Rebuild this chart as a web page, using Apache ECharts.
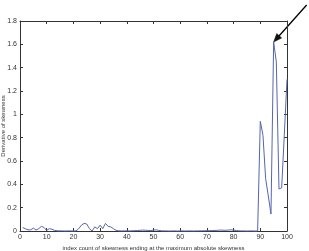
<!DOCTYPE html>
<html><head><meta charset="utf-8">
<script src="https://cdn.jsdelivr.net/npm/echarts@6/dist/echarts.min.js"></script>
<style>html,body{margin:0;padding:0;background:#fff}#c{width:309px;height:251px}</style>
</head><body><div id="c"></div>
<script>
const xIndex = [];
for (let i = 1; i <= 100; i++) xIndex.push(i);
const skewDeriv = [
 0.030,0.020,0.010,0.010,0.025,0.008,0.020,0.040,0.030,0.005,
 0.020,0.015,0.005,0.002,0.001,0.001,0.000,0.001,0.001,0.000,
 0.001,0.020,0.050,0.065,0.060,0.020,0.000,0.035,0.020,0.050,
 0.020,0.065,0.040,0.035,0.020,0.005,0.002,0.001,0.001,0.002,
 0.001,0.002,0.003,0.004,0.006,0.008,0.006,0.005,0.004,0.008,
 0.010,0.005,0.002,0.001,0.001,0.000,0.001,0.001,0.000,0.001,
 0.001,0.000,0.001,0.001,0.000,0.001,0.001,0.002,0.002,0.003,
 0.003,0.004,0.005,0.006,0.008,0.007,0.006,0.008,0.010,0.008,
 0.004,0.002,0.001,0.001,0.000,0.001,0.001,0.000,0.000,0.940,
 0.820,0.450,0.300,0.145,1.620,1.450,0.360,0.370,0.830,1.300
];
const xTicks = [0,10,20,30,40,50,60,70,80,90,100];
const yTicks = [0,0.2,0.4,0.6,0.8,1,1.2,1.4,1.6,1.8];
const peak = [95, 1.62];

const chart = echarts.init(document.getElementById('c'), null, {renderer:'canvas'});
const FONT = 'Liberation Sans';
const axLine = {show:true, onZero:false, lineStyle:{color:'#333', width:1}};
const tick = {show:true, inside:true, length:3, lineStyle:{color:'#333'}};
const lbl = {color:'#333', fontSize:7, fontFamily:FONT};
const fmtY = v => String(Math.round(v*10)/10);
chart.setOption({
  animation:false,
  grid:{left:20, right:22, top:21, bottom:20, containLabel:false, outerBoundsMode:'none'},
  xAxis:[
    {type:'value', min:0, max:100, interval:10, position:'bottom',
     axisLine:axLine, axisTick:tick, splitLine:{show:false},
     axisLabel:Object.assign({margin:3}, lbl),
     name:'index count of skewness ending at the maximum absolute skewness',
     nameLocation:'middle', nameGap:14, nameMoveOverlap:false,
     nameTextStyle:{color:'#333', fontSize:6, fontFamily:FONT}},
    {type:'value', min:0, max:100, interval:10, position:'top',
     axisLine:axLine, axisTick:tick, axisLabel:{show:false}, splitLine:{show:false}}
  ],
  yAxis:[
    {type:'value', min:0, max:1.8, interval:0.2, position:'left',
     axisLine:axLine, axisTick:tick, splitLine:{show:false},
     axisLabel:Object.assign({margin:3, formatter:fmtY}, lbl),
     name:'Derivative of skewness', nameLocation:'middle', nameGap:14, nameMoveOverlap:false,
     nameTextStyle:{color:'#333', fontSize:6, fontFamily:FONT}},
    {type:'value', min:0, max:1.8, interval:0.2, position:'right',
     axisLine:axLine, axisTick:tick, axisLabel:{show:false}, splitLine:{show:false}}
  ],
  series:[{
    type:'line', data:xIndex.map((x,i)=>[x, skewDeriv[i]]),
    showSymbol:false, symbol:'none', clip:false,
    lineStyle:{color:'#5565ad', width:1}
  }]
});
const tip = chart.convertToPixel({xAxisIndex:0, yAxisIndex:0}, peak);
const start = [tip[0]+33, tip[1]-37];
const ang = Math.atan2(tip[1]-start[1], tip[0]-start[0]);
const L = 9, W = 0.38;
const p1 = [tip[0]-L*Math.cos(ang-W), tip[1]-L*Math.sin(ang-W)];
const p2 = [tip[0]-L*Math.cos(ang+W), tip[1]-L*Math.sin(ang+W)];
chart.setOption({graphic:[
  {type:'line', shape:{x1:start[0], y1:start[1], x2:tip[0]+4*Math.cos(ang+Math.PI), y2:tip[1]+4*Math.sin(ang+Math.PI)}, style:{stroke:'#000', lineWidth:1.3}},
  {type:'polygon', shape:{points:[tip, p1, p2]}, style:{fill:'#111', stroke:'#111', lineWidth:0.5}}
]});
</script></body></html>
